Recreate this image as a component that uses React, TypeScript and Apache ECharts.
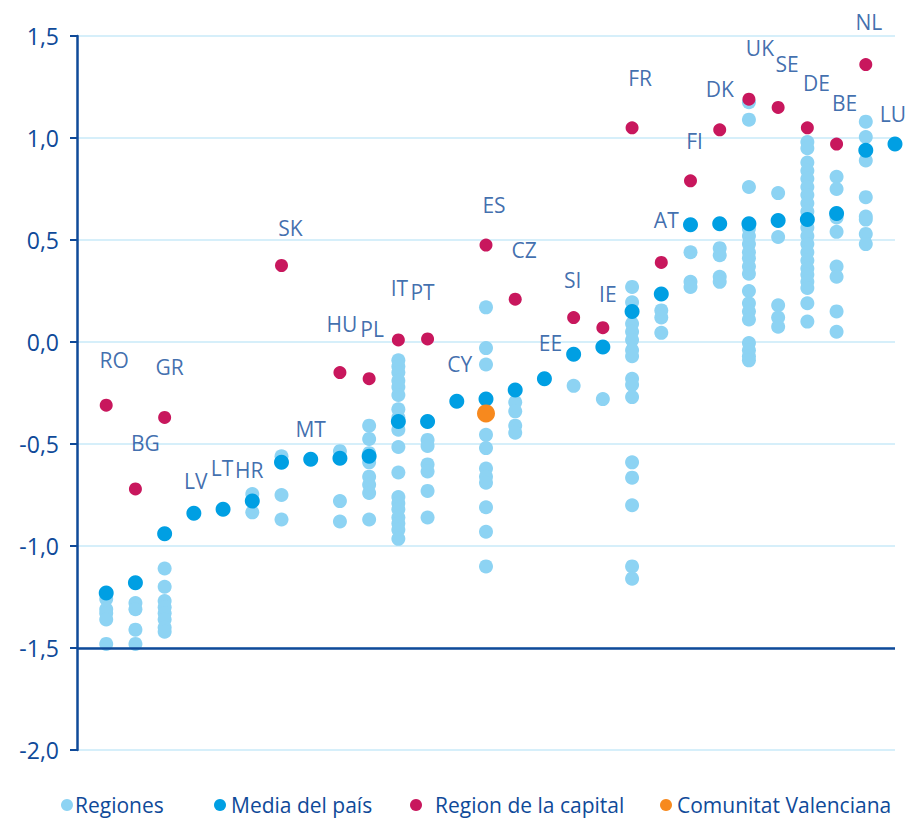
import React, { useEffect, useRef } from "react";
import * as echarts from "echarts";

const countries = ["RO","BG","GR","LV","LT","HR","SK","MT","HU","PL","IT","PT","CY","ES","CZ","EE","SI","IE","FR","AT","FI","DK","UK","SE","DE","BE","NL","LU"];

const regionValues: number[][] = [
  [-1.26, -1.31, -1.33, -1.36, -1.48],
  [-1.28, -1.31, -1.41, -1.48],
  [-1.11, -1.2, -1.27, -1.3, -1.33, -1.36, -1.4, -1.42],
  [],
  [],
  [-0.745, -0.835],
  [-0.56, -0.75, -0.87],
  [],
  [-0.535, -0.78, -0.88],
  [-0.41, -0.475, -0.545, -0.59, -0.66, -0.7, -0.74, -0.87],
  [-0.09, -0.12, -0.15, -0.19, -0.22, -0.26, -0.33, -0.37, -0.43, -0.515, -0.64, -0.76, -0.79, -0.82, -0.86, -0.89, -0.92, -0.965],
  [-0.48, -0.51, -0.6, -0.635, -0.73, -0.86],
  [],
  [0.17, -0.03, -0.11, -0.455, -0.52, -0.62, -0.66, -0.69, -0.81, -0.93, -1.1],
  [-0.295, -0.34, -0.41, -0.445],
  [],
  [-0.215],
  [-0.28],
  [0.27, 0.195, 0.09, 0.05, 0.01, -0.04, -0.07, -0.18, -0.21, -0.27, -0.59, -0.665, -0.8, -1.1, -1.16],
  [0.155, 0.12, 0.045],
  [0.44, 0.295, 0.27],
  [0.46, 0.425, 0.32, 0.295],
  [1.175, 1.09, 0.76, 0.555, 0.52, 0.48, 0.44, 0.41, 0.37, 0.335, 0.25, 0.19, 0.15, 0.11, -0.005, -0.04, -0.07, -0.09],
  [0.73, 0.515, 0.18, 0.12, 0.075],
  [0.98, 0.95, 0.88, 0.84, 0.8, 0.76, 0.72, 0.68, 0.64, 0.56, 0.52, 0.48, 0.44, 0.4, 0.36, 0.33, 0.295, 0.265, 0.19, 0.1],
  [0.81, 0.75, 0.61, 0.54, 0.37, 0.32, 0.15, 0.05],
  [1.08, 1.005, 0.89, 0.71, 0.615, 0.6, 0.53, 0.48],
  [],
];

const meanValues = [-1.23, -1.18, -0.94, -0.84, -0.82, -0.78, -0.59, -0.575, -0.57, -0.56, -0.39, -0.39, -0.29, -0.28, -0.235, -0.18, -0.06, -0.025, 0.15, 0.235, 0.575, 0.58, 0.58, 0.595, 0.6, 0.63, 0.94, 0.97];

const capitalValues: (number | null)[] = [-0.31, -0.72, -0.37, null, null, null, 0.375, null, -0.15, -0.18, 0.01, 0.015, null, 0.475, 0.21, null, 0.12, 0.07, 1.05, 0.39, 0.79, 1.04, 1.19, 1.15, 1.05, 0.97, 1.36, null];

const valencianaCountry = "ES";
const valencianaValue = -0.35;

// label positions (data units for y, pixel offset for x)
const labelY = [-0.088, -0.495, -0.123, -0.681, -0.618, -0.627, 0.559, -0.426, 0.088, 0.064, 0.265, 0.245, -0.108, 0.672, 0.451, -0.005, 0.304, 0.235, 1.294, 0.598, 0.985, 1.24, 1.441, 1.363, 1.27, 1.172, 1.569, 1.118];
const labelDx = [8, 10, 5, 2, -1, -3, 9, 0, 2, 3, 1, -5, 3, 8, 9, 6, -1, 5, 8, 5, 4, 0, 11, 9, 9, 8, 3, -2];

const yTicks = [-2, -1.5, -1, -0.5, 0, 0.5, 1, 1.5];

const TEXT = "#0f4a99";
const C_REG = "#8dd3f3";
const C_MEAN = "#009fe3";
const C_CAP = "#c8175d";
const C_CV = "#f7891e";
const FONT = "Open Sans";

export default function App() {
  const ref = useRef<HTMLDivElement>(null);
  useEffect(() => {
    if (!ref.current) return;
    const chart = echarts.init(ref.current, undefined, { renderer: "svg" });
    const regData: number[][] = [];
    regionValues.forEach((vals, i) => vals.forEach((v) => regData.push([i + 1, v])));
    const meanData = meanValues.map((v, i) => [i + 1, v]);
    const capData: number[][] = [];
    capitalValues.forEach((v, i) => { if (v !== null) capData.push([i + 1, v]); });
    const cvData = [[countries.indexOf(valencianaCountry) + 1, valencianaValue]];
    const labData = countries.map((c, i) => ({
      value: [i + 1, labelY[i]],
      name: c,
      label: { offset: [labelDx[i], 0] },
    }));

    const legendBase = (name: string, left: number, pad: number) => ({
      show: true,
      data: [{ name, icon: "circle" }],
      left,
      top: 788,
      itemWidth: 12,
      itemHeight: 12,
      selectedMode: false,
      textStyle: { color: TEXT, fontSize: 21, fontFamily: FONT, padding: [0, 0, 0, pad], lineHeight: 24 },
    });

    chart.setOption({
      animation: false,
      textStyle: { fontFamily: FONT },
      grid: { left: 77, right: 12, top: 36, bottom: 68, containLabel: false },
      legend: [
        legendBase("Regiones", 56, -3),
        legendBase("Media del país", 209, 0),
        legendBase("Region de la capital", 405, 8),
        legendBase("Comunitat Valenciana", 655, 0),
      ],
      xAxis: { type: "value", min: 0, max: 28, show: false },
      yAxis: {
        type: "value",
        min: yTicks[0],
        max: yTicks[yTicks.length - 1],
        interval: 0.5,
        axisLine: { show: true, lineStyle: { color: TEXT, width: 2.5 } },
        axisTick: { show: true, length: 7, lineStyle: { color: TEXT, width: 2 } },
        axisLabel: {
          color: TEXT,
          fontSize: 23,
          fontFamily: FONT,
          margin: 18,
          formatter: (v: number) => v.toFixed(1).replace(".", ","),
        },
        splitLine: { show: true, lineStyle: { color: "#c9eaf8", width: 1.5 } },
      },
      series: [
        {
          name: "Regiones",
          type: "scatter",
          data: regData,
          symbolSize: 14,
          clip: false,
          itemStyle: { color: C_REG, opacity: 1 },
          markLine: {
            silent: true,
            symbol: ["none", "none"],
            label: { show: false },
            lineStyle: { color: TEXT, width: 2.5, type: "solid" },
            data: [{ yAxis: -1.5 }],
          },
        },
        {
          name: "Media del país",
          type: "scatter",
          data: meanData,
          symbolSize: 15,
          clip: false,
          itemStyle: { color: C_MEAN, opacity: 1 },
        },
        {
          name: "Region de la capital",
          type: "scatter",
          data: capData,
          symbolSize: 13,
          clip: false,
          itemStyle: { color: C_CAP, opacity: 1 },
        },
        {
          name: "Comunitat Valenciana",
          type: "scatter",
          data: cvData,
          symbolSize: 18,
          clip: false,
          itemStyle: { color: C_CV, opacity: 1 },
        },
        {
          name: "labels",
          type: "scatter",
          data: labData,
          symbolSize: 1,
          clip: false,
          silent: true,
          itemStyle: { color: "rgba(0,0,0,0)" },
          label: {
            show: true,
            position: "inside",
            formatter: (p: any) => p.name,
            color: TEXT,
            fontSize: 21,
            fontFamily: FONT,
          },
        },
      ],
    });
    return () => chart.dispose();
  }, []);
  return <div ref={ref} style={{ width: 907, height: 818, position: "absolute", left: 0, top: 0 }} />;
}
